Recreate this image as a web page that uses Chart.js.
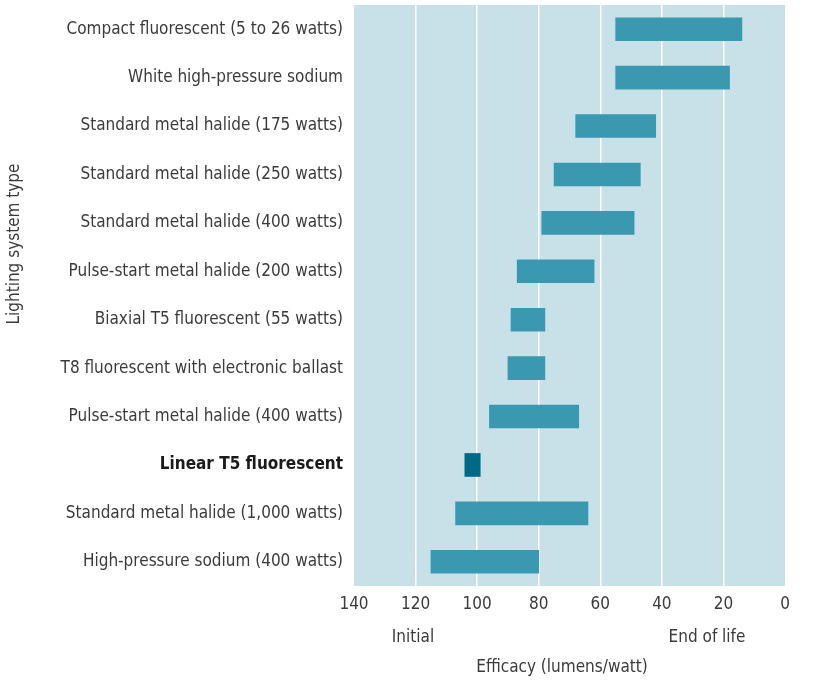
<!DOCTYPE html>
<html>
<head>
<meta charset="utf-8">
<title>Lighting efficacy</title>
<script src="https://cdn.jsdelivr.net/npm/chart.js@4.4.1/dist/chart.umd.min.js"></script>
<style>
    html, body { margin: 0; padding: 0; background: #fff; }
    #wrap { width: 819px; height: 681px; }
</style>
</head>
<body>
<div id="wrap"><canvas id="chart" width="819" height="681"></canvas></div>
<script>
const FONT = "'Liberation Sans Narrow', 'DejaVu Sans Condensed', 'Roboto', sans-serif";

const lampTypes = [
    'Compact fluorescent (5 to 26 watts)',
    'White high-pressure sodium',
    'Standard metal halide (175 watts)',
    'Standard metal halide (250 watts)',
    'Standard metal halide (400 watts)',
    'Pulse-start metal halide (200 watts)',
    'Biaxial T5 fluorescent (55 watts)',
    'T8 fluorescent with electronic ballast',
    'Pulse-start metal halide (400 watts)',
    'Linear T5 fluorescent',
    'Standard metal halide (1,000 watts)',
    'High-pressure sodium (400 watts)'
];
// lumens/watt at start and at end of lamp life
const initialEfficacy = [55, 55, 68, 75, 79, 87, 89, 90, 96, 104, 107, 115];
const endOfLifeEfficacy = [14, 18, 42, 47, 49, 62, 78, 78, 67, 99, 64, 80];
const highlighted = 'Linear T5 fluorescent';

const xTicks = [0, 20, 40, 60, 80, 100, 120, 140];

const barColor = '#3a99b1';
const highlightColor = '#006a86';
const plotBg = '#c8e0e7';
const textColor = '#3b3b3b';

// plot background + extra axis captions
const decor = {
    id: 'decor',
    beforeDraw(chart) {
        const { ctx, chartArea: a } = chart;
        ctx.save();
        ctx.fillStyle = plotBg;
        ctx.fillRect(a.left, a.top, a.right - a.left, a.bottom - a.top);
        ctx.restore();
    },
    afterDraw(chart) {
        const { ctx } = chart;
        ctx.save();
        ctx.fillStyle = textColor;
        ctx.font = `17px ${FONT}`;
        ctx.textAlign = 'center';
        ctx.textBaseline = 'middle';
        ctx.fillText('Initial', 413, 638);
        ctx.fillText('End of life', 707, 638);
        ctx.fillText('Efficacy (lumens/watt)', 562, 668);

        ctx.translate(15, 244);
        ctx.rotate(-Math.PI / 2);
        ctx.fillText('Lighting system type', 0, 0);
        ctx.restore();
    }
};

new Chart(document.getElementById('chart'), {
    type: 'bar',
    data: {
        labels: lampTypes,
        datasets: [{
            data: lampTypes.map((l, i) => [initialEfficacy[i], endOfLifeEfficacy[i]]),
            backgroundColor: lampTypes.map(l => l === highlighted ? highlightColor : barColor),
            borderWidth: 0,
            borderSkipped: false,
            barThickness: 23
        }]
    },
    options: {
        indexAxis: 'y',
        responsive: false,
        animation: false,
        layout: { padding: { top: 5, right: 34, bottom: 0, left: 0 } },
        plugins: {
            legend: { display: false },
            tooltip: { enabled: false }
        },
        scales: {
            x: {
                reverse: true,
                min: 0,
                max: 140,
                afterBuildTicks: s => { s.ticks = xTicks.map(v => ({ value: v })); },
                afterFit: s => { s.height = 95; s.paddingLeft = 0; s.paddingRight = 0; },
                border: { display: false },
                grid: {
                    color: c => (c.tick && (c.tick.value === 0 || c.tick.value === 140)) ? 'rgba(0,0,0,0)' : '#ffffff',
                    lineWidth: 1.5,
                    drawTicks: false
                },
                ticks: {
                    color: textColor,
                    padding: 8,
                    maxRotation: 0,
                    font: { family: FONT, size: 17 }
                }
            },
            y: {
                afterFit: s => { s.width = 354; s.paddingTop = 0; s.paddingBottom = 0; },
                border: { display: false },
                grid: { display: false, drawTicks: false },
                ticks: {
                    padding: 11,
                    color: c => lampTypes[c.index] === highlighted ? '#1a1a1a' : textColor,
                    font: c => ({
                        family: FONT,
                        size: 17,
                        weight: lampTypes[c.index] === highlighted ? 'bold' : 'normal'
                    })
                }
            }
        }
    },
    plugins: [decor]
});
</script>
</body>
</html>
